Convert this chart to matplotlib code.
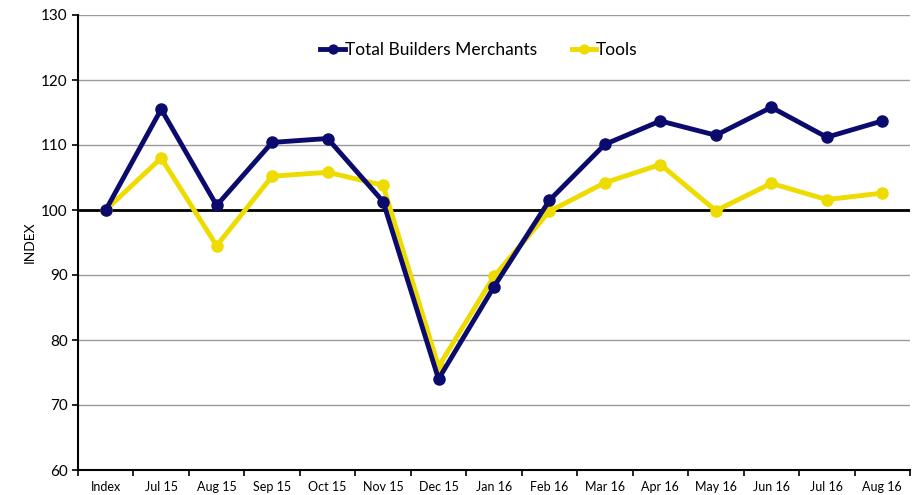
import matplotlib
matplotlib.use("Agg")
import matplotlib.pyplot as plt
import numpy as np

categories = ["Index", "Jul 15", "Aug 15", "Sep 15", "Oct 15", "Nov 15", "Dec 15", "Jan 16",
              "Feb 16", "Mar 16", "Apr 16", "May 16", "Jun 16", "Jul 16", "Aug 16"]
total_bm = [100, 115.5, 100.7, 110.4, 111.0, 101.3, 74.0, 88.2, 101.5, 110.1, 113.7, 111.5, 115.8, 111.2, 113.7]
tools = [100, 108.0, 94.5, 105.2, 105.8, 103.8, 75.9, 89.8, 99.8, 104.2, 107.0, 99.9, 104.1, 101.6, 102.6]

plt.rcParams['font.family'] = ['Lato', 'DejaVu Sans']

fig = plt.figure(figsize=(9.16, 4.95), dpi=100)
ax = fig.add_axes([78/916, 1-470/495, (910-78)/916, (470-15)/495])

x = np.arange(len(categories))
navy = "#0B0B6E"
yellow = "#EEDB00"

for yv in range(60, 131, 10):
    ax.axhline(yv, color="#9a9a9a", lw=1.0, zorder=0)
ax.axhline(100, color="black", lw=2.0, zorder=1)

ax.plot(x, total_bm, color=navy, lw=3.5, marker="o", ms=8, label="Total Builders Merchants", zorder=3)
ax.plot(x, tools, color=yellow, lw=3.5, marker="o", ms=8, label="Tools", zorder=2)

ax.set_xlim(-0.5, len(categories) - 0.5)
ax.set_ylim(60, 130)
ax.set_yticks(range(60, 131, 10))
ax.set_xticks(x)
ax.set_xticklabels(categories, fontsize=9)
ax.set_xticks(np.arange(-0.5, len(categories), 1), minor=True)
ax.tick_params(axis="x", which="major", length=0, pad=8)
ax.tick_params(axis="x", which="minor", length=4, width=1.2, direction="out")
ax.tick_params(axis="y", labelsize=11, length=4, width=1.2)
for s in ["top", "right"]:
    ax.spines[s].set_visible(False)
for s in ["left", "bottom"]:
    ax.spines[s].set_linewidth(1.5)
ax.set_ylabel("INDEX", fontsize=10, labelpad=4)

ax.legend(loc="upper center", bbox_to_anchor=(0.482, 0.975), ncol=2, frameon=False,
          fontsize=12.5, handlelength=1.4, handletextpad=0.0, columnspacing=2.0,
          markerscale=0.8)

fig.savefig("out.png", dpi=100)
